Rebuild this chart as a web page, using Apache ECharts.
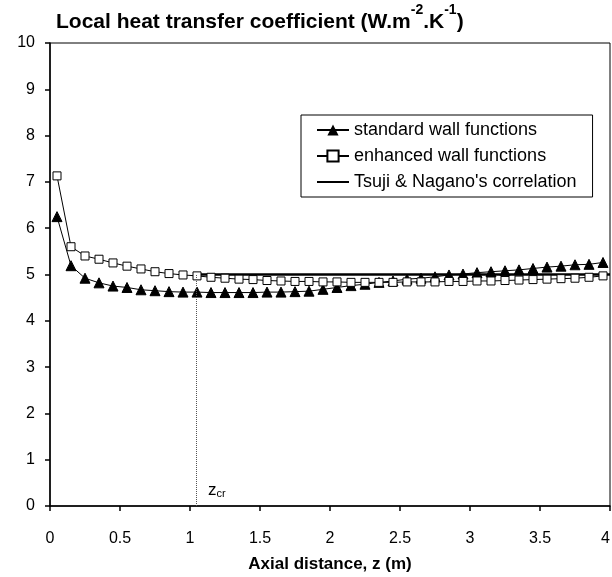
<!DOCTYPE html>
<html>
<head>
<meta charset="utf-8">
<script src="https://cdn.jsdelivr.net/npm/echarts@6/dist/echarts.min.js"></script>
<style>
html,body{margin:0;padding:0;background:#fff;}
#chart{width:612px;height:577px;}
</style>
</head>
<body>
<div id="chart"></div>
<script>
// axial positions (m)
var zList = [0.05,0.15,0.25,0.35,0.45,0.55,0.65,0.75,0.85,0.95,
	1.05,1.15,1.25,1.35,1.45,1.55,1.65,1.75,1.85,1.95,
	2.05,2.15,2.25,2.35,2.45,2.55,2.65,2.75,2.85,2.95,
	3.05,3.15,3.25,3.35,3.45,3.55,3.65,3.75,3.85,3.95];
var standardWall = [6.25,5.19,4.92,4.82,4.75,4.72,4.67,4.65,4.63,4.62,
	4.62,4.61,4.61,4.61,4.61,4.62,4.62,4.63,4.64,4.68,
	4.72,4.76,4.79,4.83,4.86,4.90,4.92,4.95,4.99,5.01,
	5.04,5.06,5.08,5.10,5.13,5.16,5.18,5.21,5.22,5.26];
var enhancedWall = [7.13,5.60,5.40,5.33,5.25,5.18,5.12,5.06,5.02,4.99,
	4.97,4.94,4.92,4.90,4.89,4.87,4.86,4.85,4.85,4.84,
	4.84,4.83,4.83,4.83,4.83,4.84,4.84,4.84,4.85,4.85,
	4.86,4.86,4.87,4.88,4.89,4.90,4.91,4.92,4.94,4.97];
var tsujiZ = [1.045, 4];
var tsujiH = [5.0, 5.0];
var zCr = 1.045;

var FONT = '"Liberation Sans", Arial, sans-serif';

function pairs(xs, ys){
	var out = [];
	xs.forEach(function(x, i){ out.push([x, ys[i]]); });
	return out;
}

var myChart = echarts.init(document.getElementById('chart'));
var option = {
	animation: false,
	backgroundColor: '#fff',
	textStyle: {fontFamily: FONT, color: '#000'},
	title: {
		left: 56, top: 3, padding: 0,
		text: '{a|Local heat transfer coefficient (W.m}{s|-2}{a|.K}{s|-1}{a|)}',
		textStyle: {
			rich: {
				a: {fontFamily: FONT, fontWeight: 'bold', fontSize: 21, lineHeight: 30, verticalAlign: 'bottom', color: '#000'},
				s: {fontFamily: FONT, fontWeight: 'bold', fontSize: 14, lineHeight: 14, verticalAlign: 'top', color: '#000'}
			}
		}
	},
	grid: {
		left: 50, right: 2, top: 43, bottom: 71,
		outerBoundsMode: 'none',
		show: true, borderColor: '#000', borderWidth: 1
	},
	legend: {
		orient: 'vertical',
		left: 301, top: 115,
		padding: [6, 16, 6, 15],
		itemGap: 8,
		itemWidth: 32, itemHeight: 14,
		borderColor: '#000', borderWidth: 1,
		backgroundColor: '#fff',
		textStyle: {fontFamily: FONT, fontSize: 18, color: '#000'},
		data: [
			'standard wall functions',
			'enhanced wall functions',
			{name: "Tsuji & Nagano's correlation", itemStyle: {color: 'rgba(0,0,0,0)', borderColor: 'rgba(0,0,0,0)', borderWidth: 0}}
		]
	},
	xAxis: {
		type: 'value', min: 0, max: 4, interval: 0.5,
		name: 'Axial distance, z (m)', nameLocation: 'middle', nameGap: 50,
		nameTextStyle: {fontFamily: FONT, fontWeight: 'bold', fontSize: 17, color: '#000'},
		axisLine: {lineStyle: {color: '#000', width: 1.5}},
		axisTick: {inside: false, length: 5, lineStyle: {color: '#000', width: 1.5}},
		axisLabel: {fontFamily: FONT, fontSize: 16, color: '#000', margin: 25, alignMaxLabel: 'right'},
		splitLine: {show: false}
	},
	yAxis: {
		type: 'value', min: 0, max: 10, interval: 1,
		axisLine: {show: true, lineStyle: {color: '#000', width: 1.5}},
		axisTick: {show: true, inside: false, length: 5, lineStyle: {color: '#000', width: 1.5}},
		axisLabel: {fontFamily: FONT, fontSize: 16, color: '#000', margin: 15},
		splitLine: {show: false}
	},
	series: [
		{
			name: 'standard wall functions', type: 'line',
			data: pairs(zList, standardWall),
			symbol: 'triangle', symbolSize: 10, showSymbol: true,
			itemStyle: {color: '#000', borderColor: '#000'},
			lineStyle: {color: '#000', width: 1},
			z: 3
		},
		{
			name: 'enhanced wall functions', type: 'line',
			data: pairs(zList, enhancedWall),
			symbol: 'rect', symbolSize: 8, showSymbol: true,
			itemStyle: {color: '#fff', borderColor: '#000', borderWidth: 1},
			lineStyle: {color: '#000', width: 1},
			z: 4
		},
		{
			name: "Tsuji & Nagano's correlation", type: 'line',
			data: pairs(tsujiZ, tsujiH),
			symbol: 'none',
			itemStyle: {color: '#000'},
			lineStyle: {color: '#000', width: 2.5},
			z: 2,
			markLine: {
				silent: true, symbol: ['none', 'none'],
				label: {show: false},
				lineStyle: {color: '#555', type: 'dotted', width: 1},
				data: [[{coord: [zCr, 0]}, {coord: [zCr, 5.0]}]]
			}
		}
	],
	graphic: [{
		type: 'text', left: 208, top: 482,
		style: {
			text: '{z|z}{c|cr}',
			rich: {
				z: {fontFamily: FONT, fontSize: 17, fill: '#000', verticalAlign: 'bottom', lineHeight: 18},
				c: {fontFamily: FONT, fontSize: 11, fill: '#000', verticalAlign: 'bottom', lineHeight: 18}
			}
		}
	}]
};
myChart.setOption(option);
</script>
</body>
</html>
